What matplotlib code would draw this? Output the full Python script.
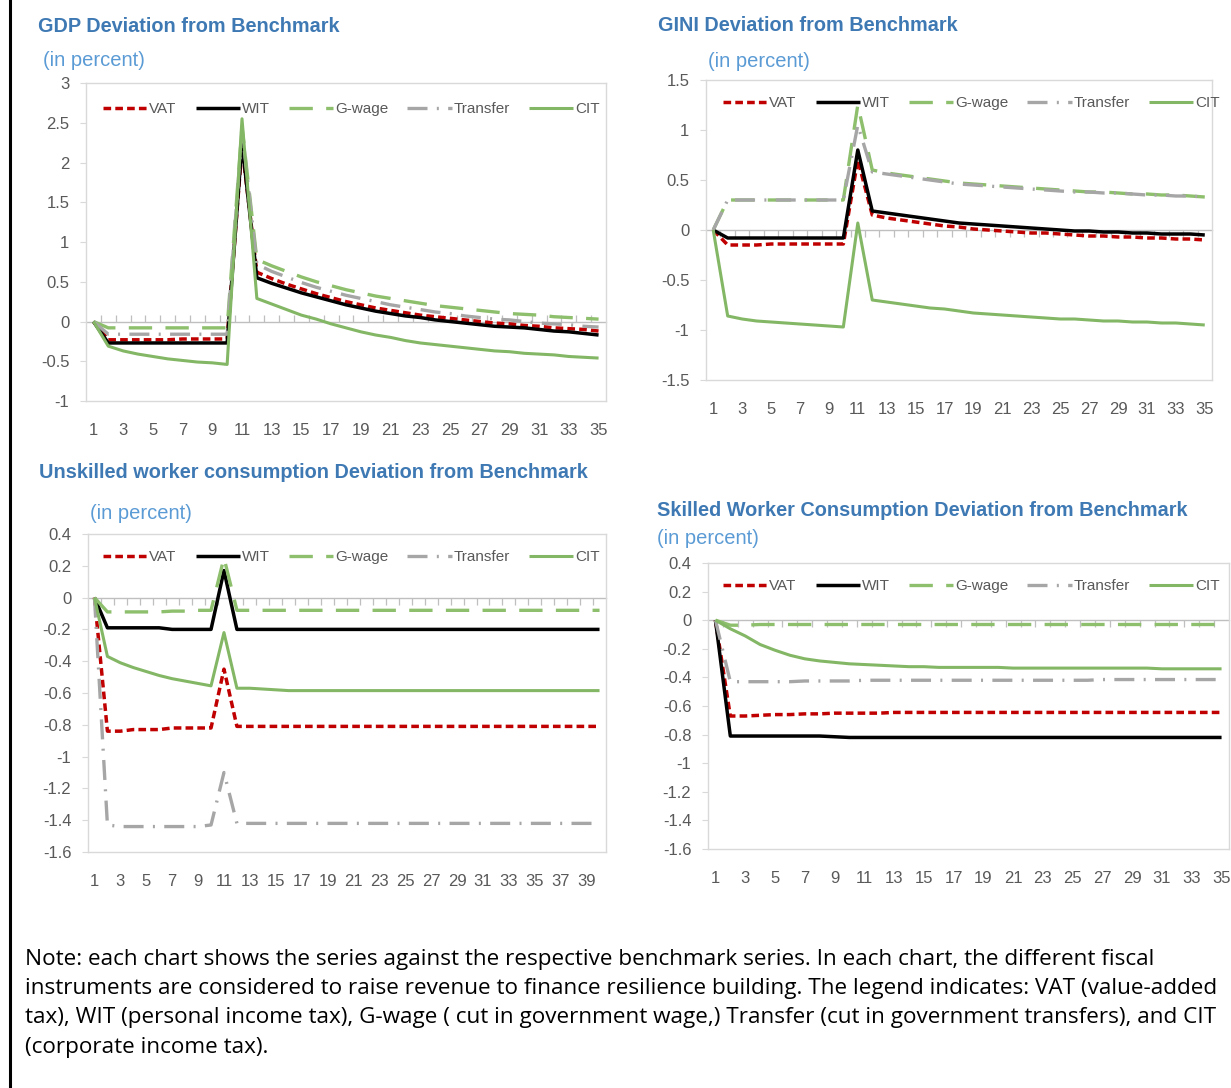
import matplotlib.pyplot as plt
from matplotlib.lines import Line2D
from matplotlib.ticker import FuncFormatter, FixedLocator
import numpy as np

plt.rcParams['axes.unicode_minus'] = False
CHART_FONT = ['Liberation Sans', 'DejaVu Sans']
NOTE_FONT = ['Open Sans', 'DejaVu Sans']

# ---------------- data ----------------
series_names = ['VAT', 'WIT', 'G-wage', 'Transfer', 'CIT']

# GDP deviation, periods 1..35
gdp_vat = [0, -0.23, -0.23, -0.23, -0.23, -0.23, -0.22, -0.22, -0.22, -0.22, 2.20,
           0.62, 0.54, 0.47, 0.41, 0.35, 0.30, 0.25, 0.21, 0.17, 0.14,
           0.11, 0.08, 0.06, 0.04, 0.02, 0.00, -0.02, -0.03, -0.05, -0.06,
           -0.08, -0.09, -0.10, -0.12]
gdp_wit = [0, -0.27, -0.27, -0.27, -0.27, -0.27, -0.27, -0.27, -0.27, -0.27, 2.25,
           0.55, 0.48, 0.42, 0.36, 0.31, 0.26, 0.21, 0.17, 0.13, 0.10,
           0.07, 0.05, 0.02, 0.00, -0.02, -0.04, -0.06, -0.07, -0.08, -0.10,
           -0.12, -0.13, -0.15, -0.17]
gdp_gwage = [0, -0.08, -0.08, -0.08, -0.08, -0.08, -0.08, -0.08, -0.08, -0.08, 2.45,
             0.78, 0.70, 0.63, 0.56, 0.50, 0.45, 0.40, 0.36, 0.32, 0.29,
             0.26, 0.23, 0.20, 0.18, 0.16, 0.14, 0.12, 0.10, 0.09, 0.08,
             0.06, 0.05, 0.04, 0.03]
gdp_transfer = [0, -0.16, -0.16, -0.16, -0.16, -0.16, -0.16, -0.16, -0.16, -0.16, 2.42,
                0.72, 0.63, 0.56, 0.49, 0.43, 0.38, 0.33, 0.29, 0.25, 0.21,
                0.18, 0.15, 0.12, 0.10, 0.07, 0.05, 0.03, 0.02, 0.00, -0.02,
                -0.03, -0.04, -0.06, -0.07]
gdp_cit = [0, -0.31, -0.37, -0.41, -0.44, -0.47, -0.49, -0.51, -0.52, -0.54, 2.55,
           0.29, 0.22, 0.15, 0.08, 0.03, -0.03, -0.08, -0.13, -0.17, -0.20,
           -0.24, -0.27, -0.29, -0.31, -0.33, -0.35, -0.37, -0.38, -0.40, -0.41,
           -0.42, -0.44, -0.45, -0.46]

# GINI deviation, periods 1..35
gini_vat = [0, -0.15, -0.15, -0.15, -0.14, -0.14, -0.14, -0.14, -0.14, -0.14, 0.70,
            0.15, 0.12, 0.10, 0.08, 0.06, 0.04, 0.03, 0.01, 0.00, -0.01,
            -0.02, -0.03, -0.03, -0.04, -0.05, -0.06, -0.06, -0.07, -0.07, -0.08,
            -0.08, -0.09, -0.09, -0.10]
gini_wit = [0, -0.08, -0.08, -0.08, -0.08, -0.08, -0.08, -0.08, -0.08, -0.08, 0.80,
            0.19, 0.17, 0.15, 0.13, 0.11, 0.09, 0.07, 0.06, 0.05, 0.04,
            0.03, 0.02, 0.01, 0.00, -0.01, -0.01, -0.02, -0.02, -0.03, -0.03,
            -0.04, -0.04, -0.04, -0.05]
gini_gwage = [0, 0.30, 0.30, 0.30, 0.30, 0.30, 0.30, 0.30, 0.30, 0.30, 1.25,
              0.60, 0.57, 0.55, 0.53, 0.51, 0.49, 0.47, 0.46, 0.45, 0.44,
              0.43, 0.42, 0.41, 0.40, 0.39, 0.38, 0.38, 0.37, 0.36, 0.36,
              0.35, 0.35, 0.34, 0.33]
gini_transfer = [0, 0.30, 0.30, 0.30, 0.30, 0.30, 0.30, 0.30, 0.30, 0.30, 1.05,
                 0.58, 0.56, 0.54, 0.52, 0.50, 0.48, 0.46, 0.45, 0.44, 0.43,
                 0.42, 0.41, 0.40, 0.39, 0.38, 0.38, 0.37, 0.37, 0.36, 0.35,
                 0.35, 0.34, 0.34, 0.33]
gini_cit = [0, -0.86, -0.89, -0.91, -0.92, -0.93, -0.94, -0.95, -0.96, -0.97, 0.07,
            -0.70, -0.72, -0.74, -0.76, -0.78, -0.79, -0.81, -0.83, -0.84, -0.85,
            -0.86, -0.87, -0.88, -0.89, -0.89, -0.90, -0.91, -0.91, -0.92, -0.92,
            -0.93, -0.93, -0.94, -0.95]

# Unskilled worker consumption deviation, periods 1..40
unsk_vat = [0, -0.84, -0.84, -0.83, -0.83, -0.83, -0.82, -0.82, -0.82, -0.82, -0.45,
            -0.81, -0.81, -0.81, -0.81, -0.81, -0.81, -0.81, -0.81, -0.81, -0.81,
            -0.81, -0.81, -0.81, -0.81, -0.81, -0.81, -0.81, -0.81, -0.81, -0.81,
            -0.81, -0.81, -0.81, -0.81, -0.81, -0.81, -0.81, -0.81, -0.81]
unsk_wit = [0, -0.19, -0.19, -0.19, -0.19, -0.19, -0.20, -0.20, -0.20, -0.20, 0.17,
            -0.20, -0.20, -0.20, -0.20, -0.20, -0.20, -0.20, -0.20, -0.20, -0.20,
            -0.20, -0.20, -0.20, -0.20, -0.20, -0.20, -0.20, -0.20, -0.20, -0.20,
            -0.20, -0.20, -0.20, -0.20, -0.20, -0.20, -0.20, -0.20, -0.20]
unsk_gwage = [0, -0.09, -0.09, -0.09, -0.09, -0.09, -0.085, -0.085, -0.08, -0.08, 0.25,
              -0.08, -0.08, -0.08, -0.08, -0.08, -0.08, -0.08, -0.08, -0.08, -0.08,
              -0.08, -0.08, -0.08, -0.08, -0.08, -0.08, -0.08, -0.08, -0.08, -0.08,
              -0.08, -0.08, -0.08, -0.08, -0.08, -0.08, -0.08, -0.08, -0.08]
unsk_transfer = [0, -1.43, -1.44, -1.44, -1.44, -1.44, -1.44, -1.44, -1.44, -1.43, -1.10,
                 -1.42, -1.42, -1.42, -1.42, -1.42, -1.42, -1.42, -1.42, -1.42, -1.42,
                 -1.42, -1.42, -1.42, -1.42, -1.42, -1.42, -1.42, -1.42, -1.42, -1.42,
                 -1.42, -1.42, -1.42, -1.42, -1.42, -1.42, -1.42, -1.42, -1.42]
unsk_cit = [0, -0.37, -0.41, -0.44, -0.465, -0.49, -0.51, -0.525, -0.54, -0.555, -0.22,
            -0.57, -0.57, -0.575, -0.58, -0.585, -0.585, -0.585, -0.585, -0.585, -0.585,
            -0.585, -0.585, -0.585, -0.585, -0.585, -0.585, -0.585, -0.585, -0.585, -0.585,
            -0.585, -0.585, -0.585, -0.585, -0.585, -0.585, -0.585, -0.585, -0.585]

# Skilled worker consumption deviation, periods 1..35
sk_vat = [0, -0.67, -0.67, -0.665, -0.66, -0.66, -0.655, -0.655, -0.65, -0.65, -0.65,
          -0.65, -0.645, -0.645, -0.645, -0.645, -0.645, -0.645, -0.645, -0.645, -0.645,
          -0.645, -0.645, -0.645, -0.645, -0.645, -0.645, -0.645, -0.645, -0.645, -0.645,
          -0.645, -0.645, -0.645, -0.645]
sk_wit = [0, -0.81, -0.81, -0.81, -0.81, -0.81, -0.81, -0.81, -0.815, -0.82, -0.82,
          -0.82, -0.82, -0.82, -0.82, -0.82, -0.82, -0.82, -0.82, -0.82, -0.82,
          -0.82, -0.82, -0.82, -0.82, -0.82, -0.82, -0.82, -0.82, -0.82, -0.82,
          -0.82, -0.82, -0.82, -0.82]
sk_gwage = [0, -0.035, -0.035, -0.03, -0.03, -0.03, -0.03, -0.03, -0.03, -0.03, -0.03,
            -0.03, -0.03, -0.03, -0.03, -0.03, -0.03, -0.03, -0.03, -0.03, -0.03,
            -0.03, -0.03, -0.03, -0.03, -0.03, -0.03, -0.03, -0.03, -0.03, -0.03,
            -0.03, -0.03, -0.03, -0.03]
sk_transfer = [0, -0.43, -0.43, -0.43, -0.43, -0.43, -0.425, -0.425, -0.425, -0.425, -0.42,
               -0.42, -0.42, -0.42, -0.42, -0.42, -0.42, -0.42, -0.42, -0.42, -0.42,
               -0.42, -0.42, -0.42, -0.42, -0.42, -0.415, -0.415, -0.415, -0.415, -0.415,
               -0.415, -0.415, -0.415, -0.415]
sk_cit = [0, -0.06, -0.11, -0.17, -0.21, -0.245, -0.27, -0.285, -0.295, -0.305, -0.31,
          -0.315, -0.32, -0.325, -0.325, -0.33, -0.33, -0.33, -0.33, -0.33, -0.335,
          -0.335, -0.335, -0.335, -0.335, -0.335, -0.335, -0.335, -0.335, -0.335, -0.34,
          -0.34, -0.34, -0.34, -0.34]

gdp_ticks = [-1, -0.5, 0, 0.5, 1, 1.5, 2, 2.5, 3]
gini_ticks = [-1.5, -1, -0.5, 0, 0.5, 1, 1.5]
cons_ticks = [-1.6, -1.4, -1.2, -1, -0.8, -0.6, -0.4, -0.2, 0, 0.2, 0.4]

# ---------------- styling ----------------
W, H = 1231, 1088
TITLE_C = '#3e79b4'
SUB_C = '#5b9bd5'
TICK_C = '#595959'
GRID_C = '#d9d9d9'

styles = {
    'VAT': dict(color='#c00000', lw=2.5, ls=(0, (2.2, 1.2)), dash_capstyle='butt'),
    'WIT': dict(color='black', lw=2.5, ls='-'),
    'G-wage': dict(color='#8dbf6c', lw=2.4, ls=(0, (7.0, 4.0))),
    'Transfer': dict(color='#a6a6a6', lw=2.4, ls=(0, (6.0, 2.8, 0.6, 2.8))),
    'CIT': dict(color='#84b765', lw=2.2, ls='-'),
}

fig = plt.figure(figsize=(W / 100, H / 100), dpi=100)


def box(l, t, r, b):
    return [l / W, 1 - b / H, (r - l) / W, (b - t) / H]


def fmt(v, _):
    return '{:g}'.format(round(v, 2))


def panel(rect, values, yticks, title, title_xy, sub_xy, legend_xy):
    ax = fig.add_axes(box(*rect))
    n = len(values[0])
    periods = np.arange(1, n + 1)
    for name, vals in zip(series_names, values):
        ax.plot(periods, vals, label=name, solid_capstyle='butt', **styles[name])
    ax.set_xlim(0.5, n + 0.5)
    ax.set_ylim(yticks[0], yticks[-1])
    ax.set_xticks(periods[::2])
    ax.set_yticks(yticks)
    ax.yaxis.set_major_formatter(FuncFormatter(fmt))
    for s in ax.spines.values():
        s.set_color(GRID_C)
        s.set_linewidth(1.0)
    ax.tick_params(axis='x', length=0, pad=15.5, labelsize=12, labelcolor=TICK_C)
    ax.tick_params(axis='y', length=4, width=0.8, color=GRID_C, pad=8,
                   labelsize=12, labelcolor=TICK_C)
    for lab in ax.get_xticklabels() + ax.get_yticklabels():
        lab.set_family(CHART_FONT)

    # horizontal category axis at zero with tick marks between categories
    frac = (0 - yticks[0]) / (yticks[-1] - yticks[0])
    sec = ax.secondary_xaxis(frac)
    sec.xaxis.set_major_locator(FixedLocator(np.arange(1.5, n, 1.0)))
    sec.tick_params(direction='in', length=5, width=0.9, color='#bfbfbf',
                    labelbottom=False, labeltop=False)
    for s in sec.spines.values():
        s.set_color('#bfbfbf')
        s.set_linewidth(1.0)

    lx = (legend_xy[0] - rect[0]) / (rect[2] - rect[0])
    ly = 1 - (legend_xy[1] - rect[1]) / (rect[3] - rect[1])
    ax.legend(loc='center left', bbox_to_anchor=(lx, ly), ncol=5, frameon=False,
              borderpad=0, borderaxespad=0, handlelength=2.9, handletextpad=0.12,
              columnspacing=1.25, prop={'family': CHART_FONT, 'size': 11},
              labelcolor=TICK_C)

    fig.text(title_xy[0] / W, 1 - title_xy[1] / H, title, color=TITLE_C,
             family=CHART_FONT, weight='bold', fontsize=14.3, va='baseline')
    fig.text(sub_xy[0] / W, 1 - sub_xy[1] / H, '(in percent)', color=SUB_C,
             family=CHART_FONT, fontsize=14.5, va='baseline')
    return ax


panel((86, 83, 606, 401), [gdp_vat, gdp_wit, gdp_gwage, gdp_transfer, gdp_cit],
      gdp_ticks, 'GDP Deviation from Benchmark', (38, 32), (43, 66), (103, 109))
panel((706, 80, 1212, 380), [gini_vat, gini_wit, gini_gwage, gini_transfer, gini_cit],
      gini_ticks, 'GINI Deviation from Benchmark', (658, 31), (708, 67), (723, 103))
panel((88, 534, 606, 852), [unsk_vat, unsk_wit, unsk_gwage, unsk_transfer, unsk_cit],
      cons_ticks, 'Unskilled worker consumption Deviation from Benchmark', (39, 478),
      (90, 519), (103, 557))
panel((708, 563, 1229, 849), [sk_vat, sk_wit, sk_gwage, sk_transfer, sk_cit],
      cons_ticks, 'Skilled Worker Consumption Deviation from Benchmark', (657, 516),
      (657, 544), (723, 586))

# left frame line
fig.add_artist(Line2D([10 / W, 10 / W], [0, 1], transform=fig.transFigure,
                      color='black', lw=2.2))

note_lines = [
    'Note: each chart shows the series against the respective benchmark series. '
    'In each chart, the different fiscal',
    'instruments are considered to raise revenue to finance resilience building. '
    'The legend indicates: VAT (value-added',
    'tax), WIT (personal income tax), G-wage ( cut in government wage,) Transfer '
    '(cut in government transfers), and CIT',
    '(corporate income tax).',
]
for i, line in enumerate(note_lines):
    fig.text(25 / W, 1 - (959 + 29.5 * i) / H, line, family=NOTE_FONT,
             fontsize=16.2, color='black', va='center')

fig.savefig('out.png', dpi=100)
